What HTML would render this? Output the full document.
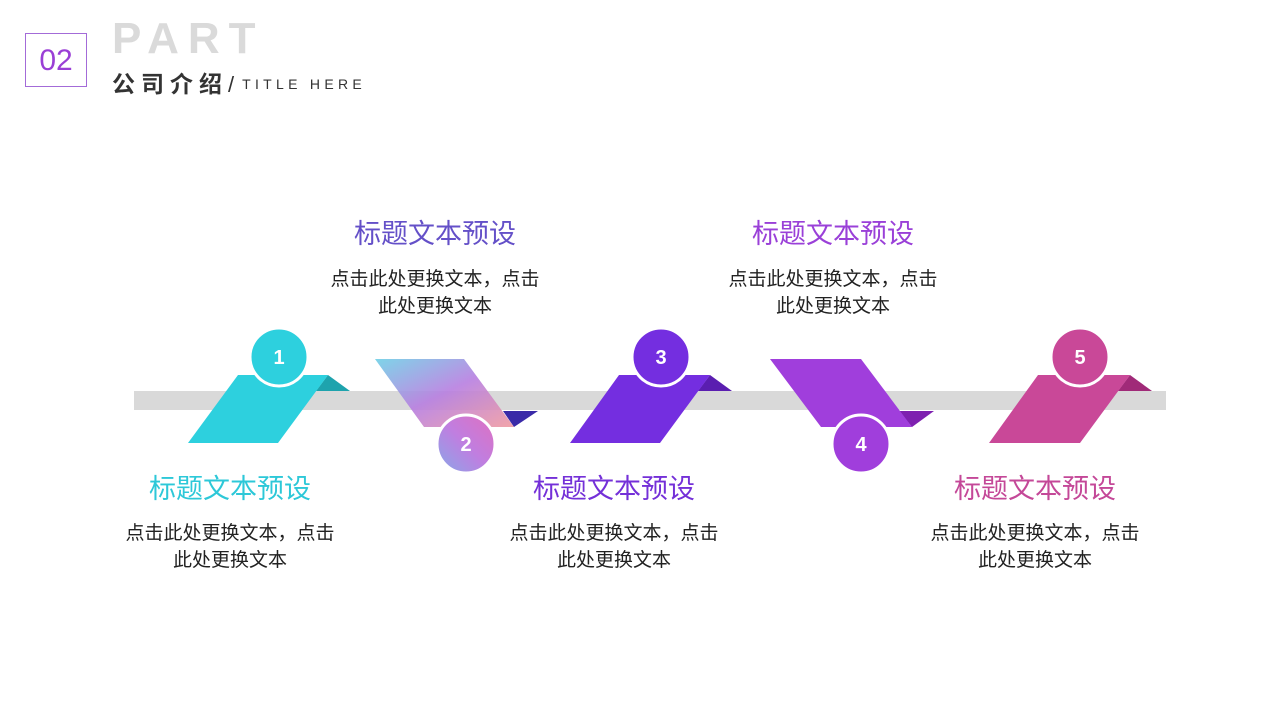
<!DOCTYPE html>
<html><head><meta charset="utf-8"><style>
body{margin:0;width:1280px;height:720px;background:#fff;position:relative;overflow:hidden;font-family:"Liberation Sans","Noto Sans CJK SC",sans-serif}
.abs{position:absolute}
.t{position:absolute;width:300px;text-align:center;font-size:27px;line-height:30px;white-space:nowrap}
.b{position:absolute;width:300px;text-align:center;font-size:19px;line-height:27px;color:#222;white-space:nowrap}
</style></head><body>
<div class="abs" style="left:25px;top:33px;width:62px;height:54px;border:1px solid #a36bd8;box-sizing:border-box;color:#9a3fd6;font-size:30px;line-height:54px;text-align:center">02</div>
<div class="abs" style="left:112px;top:16px;font-size:44px;font-weight:bold;color:#dadada;letter-spacing:9px;line-height:46px">PART</div>
<div class="abs" style="left:112px;top:70px;font-size:23px;font-weight:bold;color:#333;letter-spacing:6px;line-height:28px">公司介绍<span style="font-weight:normal;font-size:22px;letter-spacing:2px">/</span><span style="font-size:14px;font-weight:normal;letter-spacing:4.3px;vertical-align:3px;margin-left:6px">TITLE HERE</span></div>

<svg class="abs" style="left:0;top:0" width="1280" height="720">
<defs>
<linearGradient id="g2" x1="0" y1="0" x2="1" y2="1">
<stop offset="0" stop-color="#6fd0e6"/><stop offset="0.5" stop-color="#b77ee0"/><stop offset="1" stop-color="#f09aa0"/></linearGradient>
<linearGradient id="gc2" x1="0" y1="1" x2="1" y2="0">
<stop offset="0" stop-color="#88a8e8"/><stop offset="0.5" stop-color="#c07ee0"/><stop offset="1" stop-color="#e070c0"/></linearGradient>
</defs>
<rect x="134" y="391" width="1032" height="19" fill="#d9d9d9"/>
<polygon points="328,375 350,391 316,391" fill="#1ea3ad"/>
<polygon points="238,375 328,375 278,443 188,443" fill="#2dd0de"/>
<ellipse cx="279" cy="357" rx="29" ry="29" fill="#2dd0de" stroke="#fff" stroke-width="3"/>
<polygon points="503,411 538,411 514,427" fill="#3a2aa8"/>
<polygon points="375,359 464,359 514,427 424,427" fill="url(#g2)" opacity="0.9"/>
<ellipse cx="466" cy="444" rx="29" ry="29" fill="url(#gc2)" stroke="#fff" stroke-width="3"/>
<polygon points="710,375 732,391 698,391" fill="#5a1eb0"/>
<polygon points="619,375 710,375 660,443 570,443" fill="#742ee0"/>
<ellipse cx="661" cy="357" rx="29" ry="29" fill="#742ee0" stroke="#fff" stroke-width="3"/>
<polygon points="899,411 934,411 912,427" fill="#7e20b0"/>
<polygon points="770,359 861,359 912,427 821,427" fill="#a03edc"/>
<ellipse cx="861" cy="444" rx="29" ry="29" fill="#a03edc" stroke="#fff" stroke-width="3"/>
<polygon points="1130,375 1152,391 1118,391" fill="#a02a78"/>
<polygon points="1038,375 1130,375 1080,443 989,443" fill="#c94898"/>
<ellipse cx="1080" cy="357" rx="29" ry="29" fill="#c94898" stroke="#fff" stroke-width="3"/>
<g font-family="Liberation Sans, sans-serif" font-weight="bold" font-size="20" fill="#fff" text-anchor="middle">
<text x="279" y="364">1</text><text x="466" y="451">2</text><text x="661" y="364">3</text><text x="861" y="451">4</text><text x="1080" y="364">5</text>
</g>
</svg>

<div class="t" style="left:285px;top:219px;color:#6450c8">标题文本预设</div>
<div class="b" style="left:285px;top:266px">点击此处更换文本，点击<br>此处更换文本</div>
<div class="t" style="left:683px;top:219px;color:#9a40d8">标题文本预设</div>
<div class="b" style="left:683px;top:266px">点击此处更换文本，点击<br>此处更换文本</div>

<div class="t" style="left:80px;top:474px;color:#2dc8d8">标题文本预设</div>
<div class="b" style="left:80px;top:520px">点击此处更换文本，点击<br>此处更换文本</div>
<div class="t" style="left:464px;top:474px;color:#7430d8">标题文本预设</div>
<div class="b" style="left:464px;top:520px">点击此处更换文本，点击<br>此处更换文本</div>
<div class="t" style="left:885px;top:474px;color:#c44898">标题文本预设</div>
<div class="b" style="left:885px;top:520px">点击此处更换文本，点击<br>此处更换文本</div>
</body></html>
